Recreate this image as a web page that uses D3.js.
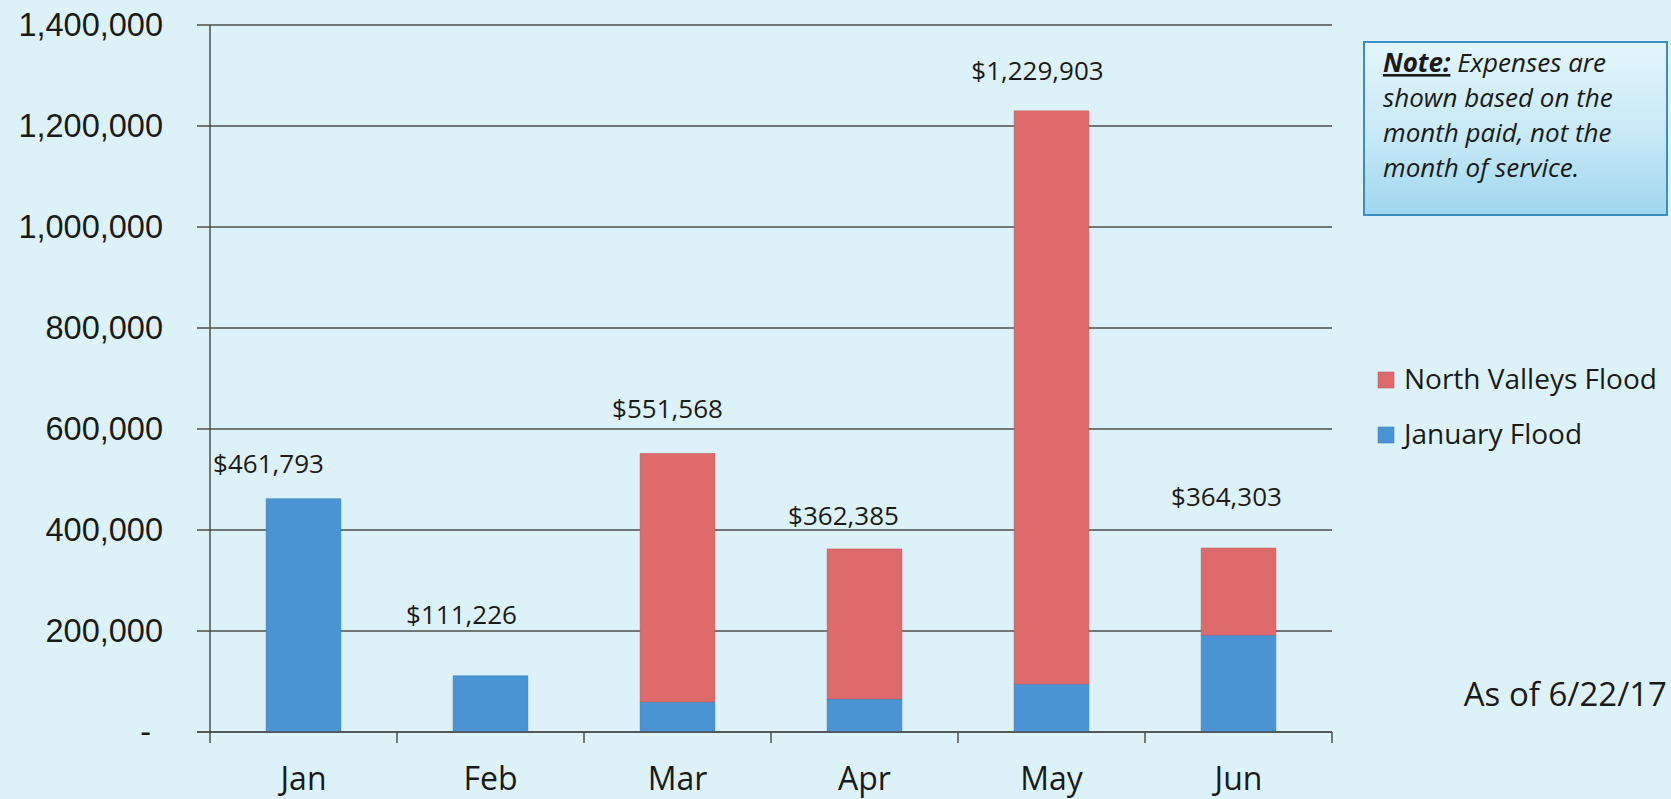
<!DOCTYPE html>
<html>
<head>
<meta charset="utf-8">
<script src="https://cdn.jsdelivr.net/npm/d3@7"></script>
<style>
  html, body { margin: 0; padding: 0; background: #ddf2f8; }
  svg { display: block; font-family: "Open Sans", "Noto Sans", sans-serif; }
</style>
</head>
<body>
<div id="chart"></div>
<script>
// data
const months = ['Jan', 'Feb', 'Mar', 'Apr', 'May', 'Jun'];
const januaryFlood = [461793, 111226, 59500, 65500, 95000, 192000];
const northValleysFlood = [0, 0, 492068, 296885, 1134903, 172303];
const seriesNames = ['January Flood', 'North Valleys Flood'];
const yTicks = [0, 200000, 400000, 600000, 800000, 1000000, 1200000, 1400000];
const noteLines = ['Expenses are', 'shown based on the', 'month paid, not the', 'month of service.'];
const asOfText = 'As of 6/22/17';

// hand placed total labels in the original (dx, lift above bar)
const labelNudge = [[-35, 26], [-29, 52], [-10, 35], [-21, 24], [-14, 31], [-12, 42]];

const W = 1671, H = 799;
const colors = { 'January Flood': '#4a94d4', 'North Valleys Flood': '#de6a6c' };

const svg = d3.select('#chart').append('svg')
    .attr('width', W)
    .attr('height', H);

const defs = svg.append('defs');
const grad = defs.append('linearGradient')
    .attr('id', 'noteFill')
    .attr('x1', 0).attr('y1', 0).attr('x2', 0).attr('y2', 1);
grad.append('stop').attr('offset', '0%').attr('stop-color', '#e4f5fb');
grad.append('stop').attr('offset', '55%').attr('stop-color', '#c6e9f6');
grad.append('stop').attr('offset', '100%').attr('stop-color', '#9fd6ee');

const rows = months.map((m, i) => ({
    month: m,
    'January Flood': januaryFlood[i],
    'North Valleys Flood': northValleysFlood[i]
}));

const x = d3.scaleBand()
    .domain(months)
    .range([210, 1332])
    .paddingInner(0.6)
    .paddingOuter(0.3);

const y = d3.scaleLinear()
    .domain([0, 1400000])
    .range([732, 25]);

// gridlines
svg.append('g')
    .selectAll('line')
    .data(yTicks)
    .join('line')
    .attr('x1', 197)
    .attr('x2', 1332)
    .attr('y1', d => y(d))
    .attr('y2', d => y(d))
    .attr('stroke', '#4d4d4d')
    .attr('stroke-width', 1.5);

// y axis labels
const yAxis = svg.append('g')
    .attr('transform', 'translate(163,0)')
    .call(d3.axisLeft(y)
        .tickValues(yTicks)
        .tickSize(0)
        .tickPadding(0)
        .tickFormat(d => d === 0 ? '-' : d3.format(',')(d)));
yAxis.select('.domain').remove();
yAxis.selectAll('text')
    .attr('fill', '#1a1a1a')
    .style('font-size', '32.5px')
    .attr('x', d => d === 0 ? -12 : 0);

// y axis line
svg.append('line')
    .attr('x1', 210).attr('x2', 210)
    .attr('y1', y(1400000)).attr('y2', y(0))
    .attr('stroke', '#4d4d4d')
    .attr('stroke-width', 1.5);

// stacked bars
const stack = d3.stack().keys(seriesNames);
const layers = stack(rows);

svg.append('g')
    .selectAll('g')
    .data(layers)
    .join('g')
    .attr('fill', d => colors[d.key])
    .attr('stroke', d => d3.color(colors[d.key]).darker(0.4))
    .attr('stroke-width', 0.6)
    .selectAll('rect')
    .data(d => d.filter(p => p[1] > p[0]))
    .join('rect')
    .attr('x', d => x(d.data.month))
    .attr('width', x.bandwidth())
    .attr('y', d => y(d[1]))
    .attr('height', d => y(d[0]) - y(d[1]));

// x axis line and boundary ticks
svg.append('line')
    .attr('x1', 197).attr('x2', 1332)
    .attr('y1', y(0)).attr('y2', y(0))
    .attr('stroke', '#4d4d4d')
    .attr('stroke-width', 1.5);

const bounds = d3.range(months.length + 1).map(i => 210 + i * x.step());
svg.append('g')
    .selectAll('line')
    .data(bounds)
    .join('line')
    .attr('x1', d => d).attr('x2', d => d)
    .attr('y1', y(0)).attr('y2', y(0) + 11)
    .attr('stroke', '#4d4d4d')
    .attr('stroke-width', 1.5);

svg.append('g')
    .selectAll('text')
    .data(months)
    .join('text')
    .attr('x', d => x(d) + x.bandwidth() / 2)
    .attr('y', 790)
    .attr('text-anchor', 'middle')
    .attr('fill', '#1a1a1a')
    .style('font-size', '32px')
    .text(d => d);

// total labels
svg.append('g')
    .selectAll('text')
    .data(rows)
    .join('text')
    .attr('x', (d, i) => x(d.month) + x.bandwidth() / 2 + labelNudge[i][0])
    .attr('y', (d, i) => y(d['January Flood'] + d['North Valleys Flood']) - labelNudge[i][1])
    .attr('text-anchor', 'middle')
    .attr('fill', '#1a1a1a')
    .style('font-size', '26px')
    .text(d => '$' + d3.format(',')(d['January Flood'] + d['North Valleys Flood']));

// legend
const legend = svg.append('g')
    .selectAll('g')
    .data(seriesNames.slice().reverse())
    .join('g')
    .attr('transform', (d, i) => `translate(1378,${372 + i * 55})`);

legend.append('rect')
    .attr('width', 16)
    .attr('height', 16)
    .attr('fill', d => colors[d])
    .attr('stroke', d => d3.color(colors[d]).darker(0.4))
    .attr('stroke-width', 0.6);

legend.append('text')
    .attr('x', 26)
    .attr('y', 17)
    .attr('fill', '#1a1a1a')
    .style('font-size', '28px')
    .text(d => d);

// note box
const note = svg.append('g');
note.append('rect')
    .attr('x', 1364)
    .attr('y', 42)
    .attr('width', 303)
    .attr('height', 173)
    .attr('fill', 'url(#noteFill)')
    .attr('stroke', '#3a8fc2')
    .attr('stroke-width', 2);

const noteText = note.append('text')
    .attr('fill', '#1a1a1a')
    .style('font-size', '26px')
    .style('font-style', 'italic');

noteLines.forEach((line, i) => {
    const t = noteText.append('tspan')
        .attr('x', 1383)
        .attr('y', 72 + i * 35);
    if (i === 0) {
        t.append('tspan')
            .style('font-weight', 'bold')
            .style('text-decoration', 'underline')
            .text('Note:');
        t.append('tspan').text(' ' + line);
    } else {
        t.text(line);
    }
});

svg.append('text')
    .attr('x', 1667)
    .attr('y', 706)
    .attr('text-anchor', 'end')
    .attr('fill', '#1a1a1a')
    .style('font-size', '33px')
    .text(asOfText);
</script>
</body>
</html>
